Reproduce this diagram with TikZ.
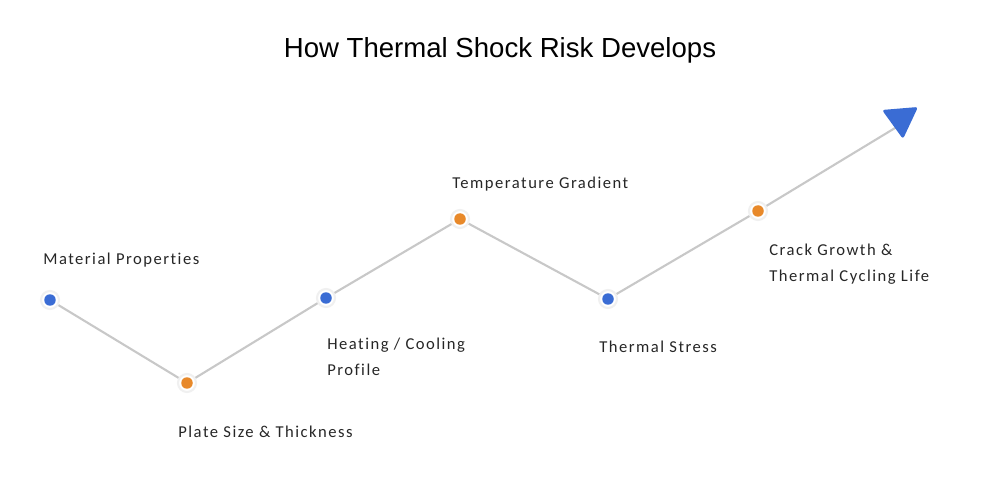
\documentclass[tikz,border=0pt]{standalone}
\usepackage{fontspec}
\setmainfont{Carlito}[LetterSpace=9,Ligatures={NoCommon}]
\newfontfamily\titlefont{Liberation Sans}
\usetikzlibrary{positioning}
\definecolor{dotblue}{HTML}{3A6CD4}
\definecolor{dotorange}{HTML}{E8892A}
\definecolor{linegray}{HTML}{C8C8C8}
\begin{document}
\begin{tikzpicture}[x=0.02cm,y=-0.02cm]
		\useasboundingbox (0,0) rectangle (1000,479);
		\tikzset{
			halo/.style={circle,fill=white,draw=black!6,line width=1.2pt,inner sep=0pt,minimum size=0.36cm},
			bluedot/.style={circle,fill=dotblue,inner sep=0pt,minimum size=0.23cm},
			orangedot/.style={circle,fill=dotorange,inner sep=0pt,minimum size=0.23cm},
			lbl/.style={align=left,anchor=west,inner sep=0pt,text=black!85,font=\fontsize{9.45}{14.8}\selectfont}
		}
		% path
		\coordinate (p1) at (50,300);
		\coordinate (p2) at (187,383);
		\coordinate (p3) at (326,298);
		\coordinate (p4) at (460,219);
		\coordinate (p5) at (608,299);
		\coordinate (p6) at (758,211);
		\coordinate (tip) at (900,125);
		\draw[linegray,line width=1.2pt] (p1) -- (p2) -- (p3) -- (p4) -- (p5) -- (p6) -- (tip);
		% arrow head
		\fill[dotblue,rounded corners=1.5pt] (882,110) -- (918,107) -- (903,139) -- cycle;
		% dots
		\foreach \p/\c in {p1/bluedot,p2/orangedot,p3/bluedot,p4/orangedot,p5/bluedot,p6/orangedot}{
			\node[halo] at (\p) {};
			\node[\c] at (\p) {};
		}
		% labels
		\node[font=\titlefont\fontsize{15.7}{18}\selectfont] (title) at (500,50) {How Thermal Shock Risk Develops};
		\node[lbl] (matprop) at (43,260.5) {Material Properties};
		\node[lbl] (plate) at (178,431.5) {Plate Size \& Thickness};
		\node[lbl] (heating) at (327,356.5) {Heating / Cooling\\Profile};
		\node[lbl] (gradient) at (452,184.5) {Temperature Gradient};
		\node[lbl] (stress) at (599,346.5) {Thermal Stress};
		\node[lbl] (crack) at (769,264.5) {Crack Growth \&\\Thermal Cycling Life};
		\end{tikzpicture}
\end{document}
